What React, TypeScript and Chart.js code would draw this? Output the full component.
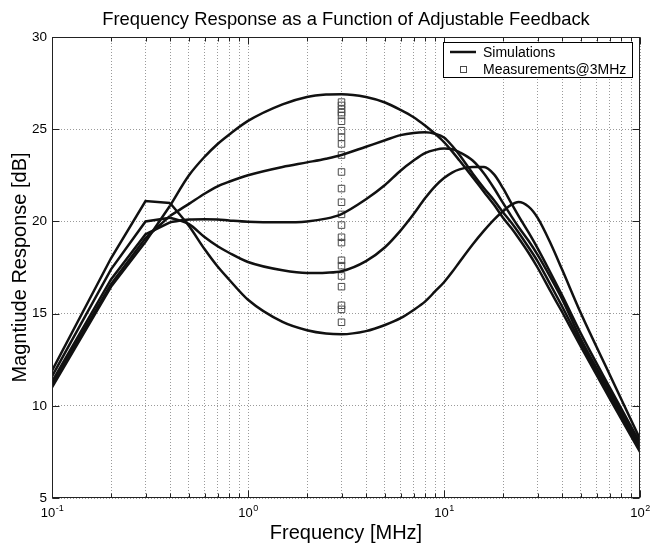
import React, { useEffect, useRef } from 'react';
import { Chart, registerables } from 'chart.js';

Chart.register(...registerables);

// ---- data ----
const freqs = [0.1, 0.2, 0.3, 0.4, 0.5, 0.6, 0.7, 0.8, 1, 1.5, 2, 2.5, 3, 4, 5, 6, 7, 8, 9, 10, 11, 12, 14, 16, 18, 20, 22, 24, 27, 30, 35, 40, 50, 70, 100];

const simA = [11.0, 16.45, 18.9, 20.85, 22.5, 23.5, 24.2, 24.7, 25.45, 26.35, 26.75, 26.88, 26.9, 26.75, 26.45, 26.05, 25.65, 25.2, 24.75, 24.3, 23.8, 23.3, 22.4, 21.6, 20.9, 20.2, 19.65, 19.1, 18.3, 17.5, 16.2, 15.1, 13.2, 10.4, 7.5];
const simB = [11.15, 16.6, 19.1, 20.3, 20.95, 21.5, 21.9, 22.15, 22.5, 22.95, 23.2, 23.4, 23.6, 24.05, 24.4, 24.68, 24.8, 24.83, 24.75, 24.55, 24.1, 23.6, 22.6, 21.8, 21.15, 20.5, 19.95, 19.4, 18.6, 17.85, 16.55, 15.4, 13.4, 10.6, 7.65];
const simC = [11.3, 16.85, 19.3, 19.95, 20.1, 20.12, 20.1, 20.05, 19.98, 19.95, 20.0, 20.15, 20.4, 21.2, 21.97, 22.75, 23.3, 23.7, 23.88, 23.95, 23.92, 23.75, 23.3, 22.6, 21.8, 21.0, 20.3, 19.7, 18.95, 18.2, 16.95, 15.8, 13.6, 10.8, 7.8];
const simD = [11.6, 17.4, 20.0, 20.2, 19.85, 19.15, 18.65, 18.3, 17.8, 17.35, 17.2, 17.22, 17.3, 17.85, 18.6, 19.5, 20.4, 21.25, 21.9, 22.35, 22.65, 22.82, 22.95, 22.95, 22.55, 21.8, 21.0, 20.3, 19.4, 18.55, 17.2, 16.0, 13.9, 11.0, 8.0];
const simE = [11.9, 18.0, 21.1, 21.0, 19.75, 18.5, 17.55, 16.85, 15.75, 14.55, 14.1, 13.92, 13.88, 14.05, 14.38, 14.75, 15.2, 15.65, 16.2, 16.7, 17.25, 17.8, 18.75, 19.5, 20.1, 20.55, 20.9, 21.05, 20.8, 20.2, 18.8, 17.4, 15.0, 11.7, 8.2];
const simulations = [simA, simB, simC, simD, simE];
// index of the last point of the straight low-frequency segments (0.4 MHz)
const lowSplit = 3;

const measFreq = 3;
const measurements = [26.47, 26.29, 26.08, 25.9, 25.75, 25.43, 24.92, 24.56, 24.2, 23.6, 22.68, 21.78, 21.04, 20.38, 19.8, 19.14, 18.85, 17.89, 17.6, 17.04, 16.46, 15.45, 15.23, 14.53];

const xGridTicks = [0.1, 0.2, 0.3, 0.4, 0.5, 0.6, 0.7, 0.8, 0.9, 1, 2, 3, 4, 5, 6, 7, 8, 9, 10, 20, 30, 40, 50, 60, 70, 80, 90, 100];
const xLabelValues = [0.1, 1, 10, 100];
const xLabelExponents = ['-1', '0', '1', '2'];

const titleText = 'Frequency Response as a Function of Adjustable Feedback';
const xTitle = 'Frequency [MHz]';
const yTitle = 'Magntiude Response [dB]';
const legendLabels = ['Simulations', 'Measurements@3MHz'];

const FONT = '"Liberation Sans", Arial, Helvetica, sans-serif';

const decorPlugin = {
  id: 'decor',
  beforeDraw(chart: any) {
    const { ctx, width, height } = chart;
    ctx.save();
    ctx.fillStyle = '#fff';
    ctx.fillRect(0, 0, width, height);
    ctx.restore();
  },
  afterDraw(chart: any) {
    const { ctx, chartArea: a, scales } = chart;
    const xs = scales.x;
    const ys = scales.y;
    ctx.save();
    const L = Math.round(a.left) + 0.5;
    const R = Math.round(a.right) - 0.5;
    const T = Math.round(a.top) + 0.5;
    const B = Math.round(a.bottom) - 0.5;

    // tick marks (inward)
    ctx.strokeStyle = '#222';
    ctx.lineWidth = 1;
    ctx.beginPath();
    xGridTicks.forEach((v) => {
      const px = Math.round(xs.getPixelForValue(v)) + 0.5;
      const len = xLabelValues.includes(v) ? 7 : 4;
      ctx.moveTo(px, B);
      ctx.lineTo(px, B - len);
      ctx.moveTo(px, T);
      ctx.lineTo(px, T + len);
    });
    ys.ticks.forEach((t: any) => {
      const py = Math.round(ys.getPixelForValue(t.value)) + 0.5;
      ctx.moveTo(L, py);
      ctx.lineTo(L + 7, py);
      ctx.moveTo(R, py);
      ctx.lineTo(R - 7, py);
    });
    ctx.stroke();

    // axes box
    ctx.strokeStyle = '#222';
    ctx.strokeRect(L, T, R - L, B - T);

    // x tick labels 10^n
    ctx.fillStyle = '#000';
    ctx.textBaseline = 'alphabetic';
    ctx.textAlign = 'left';
    xLabelValues.forEach((v, i) => {
      const px = xs.getPixelForValue(v);
      ctx.font = `13px ${FONT}`;
      const w1 = ctx.measureText('10').width;
      ctx.font = `9px ${FONT}`;
      const w2 = ctx.measureText(xLabelExponents[i]).width;
      const start = px - (w1 + w2) / 2;
      ctx.font = `13px ${FONT}`;
      ctx.fillText('10', start, 517);
      ctx.font = `9px ${FONT}`;
      ctx.fillText(xLabelExponents[i], start + w1 + 0.5, 511);
    });

    // titles
    ctx.textAlign = 'center';
    ctx.font = `18.4px ${FONT}`;
    ctx.fillText(titleText, (a.left + a.right) / 2, 25);
    ctx.font = `20px ${FONT}`;
    ctx.fillText(xTitle, (a.left + a.right) / 2, 539);
    ctx.save();
    ctx.translate(26, (a.top + a.bottom) / 2);
    ctx.rotate(-Math.PI / 2);
    ctx.fillText(yTitle, 0, 0);
    ctx.restore();

    // legend
    const lx = 443, ly = 42, lw = 189, lh = 35;
    ctx.fillStyle = '#fff';
    ctx.fillRect(lx, ly, lw, lh);
    ctx.strokeStyle = '#000';
    ctx.lineWidth = 1;
    ctx.strokeRect(lx + 0.5, ly + 0.5, lw, lh);
    ctx.strokeStyle = '#111';
    ctx.lineWidth = 2.5;
    ctx.beginPath();
    ctx.moveTo(450, 52);
    ctx.lineTo(476, 52);
    ctx.stroke();
    ctx.strokeStyle = '#4a4a4a';
    ctx.lineWidth = 1;
    ctx.strokeRect(460.5, 66.5, 6, 6);
    ctx.fillStyle = '#000';
    ctx.font = `14px ${FONT}`;
    ctx.textAlign = 'left';
    ctx.fillText(legendLabels[0], 483, 56.5);
    ctx.fillText(legendLabels[1], 483, 74);
    ctx.restore();
  },
};

export default function App() {
  const ref = useRef<HTMLCanvasElement | null>(null);

  useEffect(() => {
    document.body.style.margin = '0';
    const canvas = ref.current;
    if (!canvas) return;

    const datasets: any[] = [];
    simulations.forEach((sim, k) => {
      datasets.push({
        label: `sim${k}-low`,
        data: freqs.slice(0, lowSplit + 1).map((f, i) => ({ x: f, y: sim[i] })),
        showLine: true,
        borderColor: '#111',
        borderWidth: 2.5,
        pointRadius: 0,
        tension: 0,
        fill: false,
      });
      datasets.push({
        label: `sim${k}`,
        data: freqs.slice(lowSplit).map((f, i) => ({ x: f, y: sim[i + lowSplit] })),
        showLine: true,
        borderColor: '#111',
        borderWidth: 2.5,
        pointRadius: 0,
        cubicInterpolationMode: 'monotone',
        fill: false,
      });
    });
    datasets.push({
      label: 'Measurements@3MHz',
      data: measurements.map((m) => ({ x: measFreq, y: m })),
      showLine: false,
      pointStyle: 'rect',
      pointRadius: 4.6,
      borderColor: '#4a4a4a',
      borderWidth: 1,
      backgroundColor: 'rgba(0,0,0,0)',
    });

    const chart = new Chart(canvas, {
      type: 'scatter',
      data: { datasets },
      options: {
        responsive: false,
        animation: false,
        devicePixelRatio: 1,
        layout: { padding: { top: 37, right: 10, bottom: 0, left: 0 } },
        plugins: {
          legend: { display: false },
          tooltip: { enabled: false },
          title: { display: false },
        },
        scales: {
          x: {
            type: 'logarithmic',
            min: 0.1,
            max: 100,
            afterBuildTicks: (s: any) => {
              s.ticks = xGridTicks.map((v) => ({ value: v, major: xLabelValues.includes(v) }));
            },
            afterFit: (s: any) => {
              s.height = 47;
            },
            ticks: { display: false, autoSkip: false },
            grid: { color: '#9a9a9a', lineWidth: 1, drawTicks: false, borderDash: [1, 2] },
            border: { display: false, dash: [1, 2] },
          },
          y: {
            type: 'linear',
            min: 5,
            max: 30,
            ticks: {
              stepSize: 5,
              color: '#000',
              padding: 5,
              font: { family: FONT, size: 13.5 },
            },
            afterFit: (s: any) => {
              s.width = 52;
            },
            grid: { color: '#9a9a9a', lineWidth: 1, drawTicks: false, borderDash: [1, 2] },
            border: { display: false, dash: [1, 2] },
          },
        },
      } as any,
      plugins: [decorPlugin],
    });

    return () => chart.destroy();
  }, []);

  return (
    <div style={{ width: 650, height: 545 }}>
      <canvas ref={ref} width={650} height={545} style={{ display: 'block' }} />
    </div>
  );
}
